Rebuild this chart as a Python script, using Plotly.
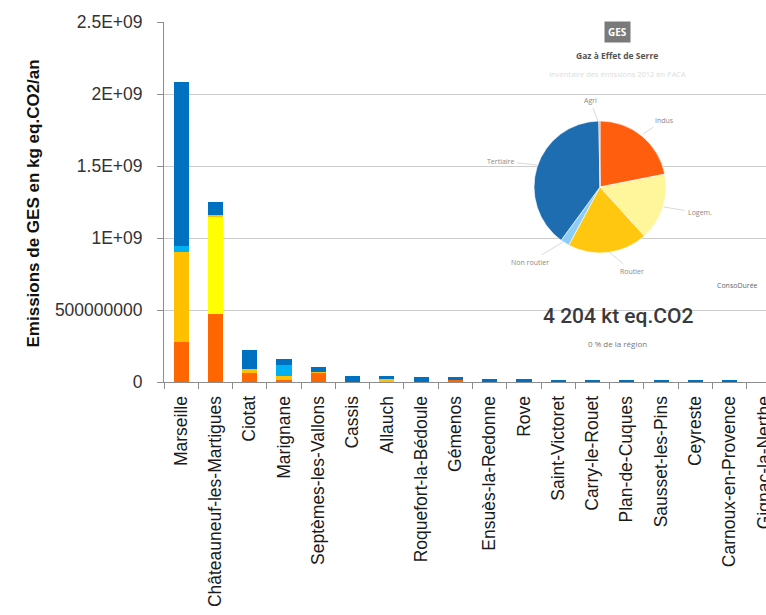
import plotly.graph_objects as go

# Communes, ordered by total emissions
communes = [
    "Marseille", "Châteauneuf-les-Martigues", "Ciotat", "Marignane",
    "Septèmes-les-Vallons", "Cassis", "Allauch", "Roquefort-la-Bédoule",
    "Gémenos", "Ensuès-la-Redonne", "Rove", "Saint-Victoret",
    "Carry-le-Rouet", "Plan-de-Cuques", "Sausset-les-Pins", "Ceyreste",
    "Carnoux-en-Provence", "Gignac-la-Nerthe",
]

# Emissions per sector (kg eq.CO2/an), stacked bottom to top
industrie = [2.80e8, 4.72e8, 6.25e7, 1.1e7, 6.25e7, 0, 0, 0, 1.5e7, 0, 0, 0, 0, 0, 0, 0, 0, 0]
logement = [0, 6.80e8, 0, 0, 0, 0, 0, 0, 0, 0, 0, 0, 0, 0, 0, 0, 0, 0]
routier = [6.25e8, 1.0e7, 3.0e7, 3.3e7, 4.0e6, 0, 2.0e7, 0, 0, 0, 0, 0, 0, 0, 0, 0, 0, 0]
non_routier = [4.0e7, 0, 0, 7.1e7, 0, 0, 0, 0, 0, 0, 0, 0, 0, 0, 0, 0, 0, 0]
tertiaire = [1.135e9, 9.0e7, 1.27e8, 4.5e7, 4.0e7, 4.4e7, 2.4e7, 3.5e7, 2.0e7,
             2.3e7, 2.3e7, 1.4e7, 1.4e7, 1.0e7, 1.0e7, 1.0e7, 1.0e7, 0]

series = [
    ("Industrie", industrie, "#FF6600"),
    ("Logement", logement, "#FFFF00"),
    ("Routier", routier, "#FFC000"),
    ("Non routier", non_routier, "#00B0F0"),
    ("Tertiaire", tertiaire, "#0070C0"),
]

# Y axis ticks
y_tickvals = [0, 5e8, 1e9, 1.5e9, 2e9, 2.5e9]
y_ticktext = ["0", "500000000", "1E+09", "1.5E+09", "2E+09", "2.5E+09"]

# Regional breakdown (kt eq.CO2) for the summary widget
pie_labels = ["Indus", "Logem.", "Routier", "Non routier", "Tertiaire", "Agri"]
pie_values = [920, 690, 822, 92, 1668, 12]
pie_colors = ["#FF5E0E", "#FFF59A", "#FFC70F", "#8DCDF5", "#1E6DB0", "#8BC34A"]
total_label = "4 204 kt eq.CO2"

W, H = 766, 615
L, R, T, B = 164, 0, 22, 233
PW, PH = W - L - R, H - T - B


def px(x):
    return (x - L) / PW


def py(y):
    return (H - B - y) / PH


fig = go.Figure()
for name, vals, col in series:
    fig.add_trace(go.Bar(
        x=communes, y=vals, name=name,
        marker=dict(color=col, line=dict(width=0)),
    ))

fig.add_trace(go.Pie(
    labels=pie_labels, values=pie_values, sort=False, direction="clockwise",
    rotation=0, marker=dict(colors=pie_colors, line=dict(color="white", width=0.6)),
    textinfo="none", hoverinfo="label+value", showlegend=False,
    domain=dict(x=[px(534), px(666)], y=[py(253), py(121)]),
))

axis_grey = "#8C8C8C"
fig.update_layout(
    template="none",
    width=W, height=H,
    margin=dict(l=L, r=R, t=T, b=B, pad=0),
    paper_bgcolor="white", plot_bgcolor="white",
    barmode="stack", bargap=0.56,
    showlegend=False,
    font=dict(family="Liberation Sans, Arial, sans-serif", color="#222"),
    xaxis=dict(
        type="category", range=[-0.5, 17.06], automargin=False,
        tickangle=-90, tickson="boundaries", ticks="outside", ticklen=6,
        tickcolor=axis_grey, tickwidth=1, ticklabelstandoff=6,
        ticklabeloverflow="allow",
        showline=True, linecolor=axis_grey, linewidth=1,
        showgrid=False, zeroline=False,
        tickfont=dict(size=17.5, color="#1a1a1a"),
    ),
    yaxis=dict(
        range=[0, 2.5e9], automargin=False,
        tickvals=y_tickvals, ticktext=y_ticktext,
        ticks="outside", ticklen=6, tickcolor=axis_grey, tickwidth=1,
        ticklabelstandoff=11,
        showline=True, linecolor=axis_grey, linewidth=1,
        showgrid=True, gridcolor="#CCCCCC", gridwidth=1, zeroline=False,
        tickfont=dict(size=17.5, color="#333"),
    ),
)

# White panel behind the summary widget
fig.add_shape(type="rect", xref="paper", yref="paper",
              x0=px(470), x1=1.0, y0=py(360), y1=py(4),
              fillcolor="white", line=dict(width=0), layer="between")

annotations = [
    # Y axis title
    dict(text="<b>Emissions de GES en kg eq.CO2/an</b>", x=px(33), y=py(203.5),
         textangle=-90, font=dict(size=17, color="#111")),
    # Widget header
    dict(text="<b>GES</b>", x=px(617), y=py(32), bgcolor="#7A7A7A",
         borderpad=3, font=dict(size=10, color="white", family="Open Sans")),
    dict(text="<b>Gaz à Effet de Serre</b>", x=px(617), y=py(55),
         font=dict(size=8.5, color="#555", family="Open Sans")),
    dict(text="Inventaire des émissions 2012 en PACA", x=px(617), y=py(74),
         font=dict(size=7.5, color="#DDDDDD", family="Open Sans")),
    dict(text=total_label, x=px(618), y=py(316),
         font=dict(size=21, color="#3a3a3a", family="Roboto", weight=500)),
    dict(text="0 % de la région", x=px(617), y=py(343),
         font=dict(size=8, color="#777", family="Open Sans")),
    dict(text="ConsoDurée", x=px(737), y=py(285),
         font=dict(size=7, color="#666", family="Open Sans")),
]
for a in annotations:
    a.setdefault("xref", "paper")
    a.setdefault("yref", "paper")
    a.setdefault("showarrow", False)
    a.setdefault("xanchor", "center")
    a.setdefault("yanchor", "middle")
    fig.add_annotation(**a)

# Slice labels with leader lines (tip on the slice edge, text offset in px)
slice_labels = [
    ("Agri", 598, 121, -8, -21),
    ("Indus", 643, 134, 21, -14),
    ("Logem.", 664, 207, 36, 6),
    ("Routier", 609, 252, 23, 19),
    ("Non routier", 563, 242, -33, 20),
    ("Tertiaire", 537, 165, -37, -4),
]
for txt, tx, ty, ax, ay in slice_labels:
    fig.add_annotation(
        text=txt, x=px(tx), y=py(ty), xref="paper", yref="paper",
        ax=ax, ay=ay, showarrow=True, arrowhead=0, arrowwidth=0.8,
        arrowcolor="#CFCFCF", standoff=0, startstandoff=2,
        font=dict(size=7, color="#8A8A8A", family="Open Sans"),
    )

fig.write_html("out.html")
